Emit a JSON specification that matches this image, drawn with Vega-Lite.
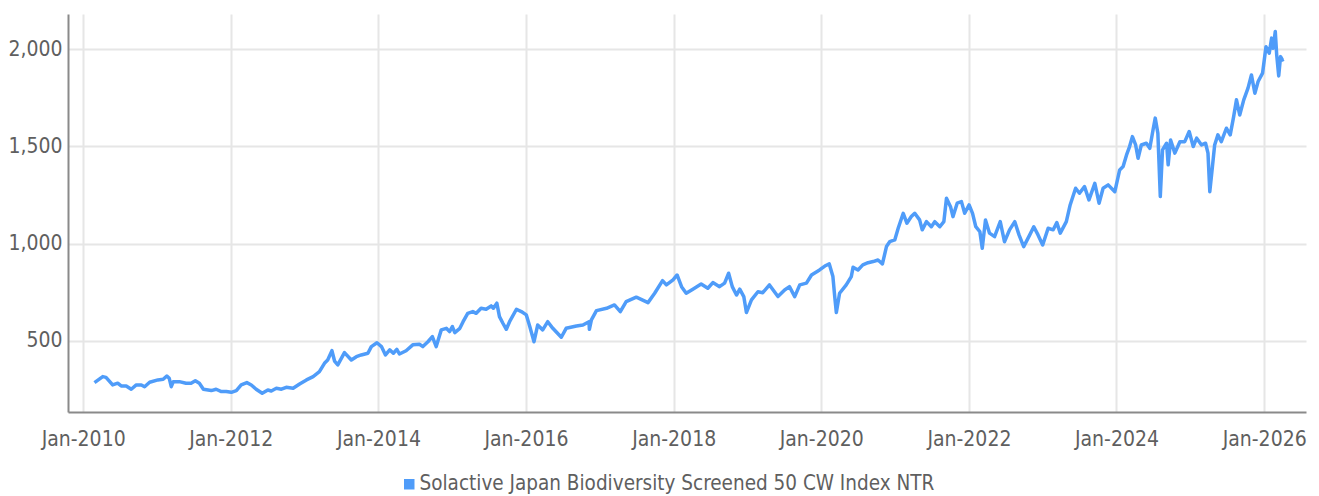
{
  "$schema": "https://vega.github.io/schema/vega-lite/v6.json",
  "width": 1238,
  "height": 398,
  "autosize": "none",
  "padding": {"left": 68, "top": 14, "right": 13, "bottom": 84},
  "background": "#ffffff",
  "config": {
    "view": {"stroke": null},
    "font": "DejaVu Sans Condensed, Roboto",
    "axis": {"labelFont": "DejaVu Sans Condensed, Roboto", "labelFontSize": 21, "labelColor": "#5f5f5f", "gridColor": "#e6e6e6", "gridWidth": 2, "domainColor": "#8a8a8a", "domainWidth": 2, "ticks": false, "title": null}
  },
  "data": {"values": [
    {"date":"2010-02-26","value":286},{"date":"2010-04-08","value":317},{"date":"2010-04-24","value":313},{"date":"2010-05-27","value":274},{"date":"2010-06-21","value":283},{"date":"2010-07-08","value":269},{"date":"2010-08-02","value":269},{"date":"2010-08-27","value":252},{"date":"2010-09-21","value":274},{"date":"2010-10-16","value":274},{"date":"2010-11-01","value":265},{"date":"2010-11-26","value":288},
    {"date":"2011-01-06","value":300},{"date":"2011-02-01","value":303},{"date":"2011-02-19","value":320},{"date":"2011-03-03","value":308},{"date":"2011-03-13","value":265},{"date":"2011-03-23","value":291},{"date":"2011-04-22","value":291},{"date":"2011-05-25","value":283},{"date":"2011-06-19","value":283},{"date":"2011-07-10","value":296},{"date":"2011-07-30","value":283},{"date":"2011-08-19","value":252},{"date":"2011-09-27","value":245},{"date":"2011-10-21","value":252},{"date":"2011-11-16","value":240},{"date":"2011-12-10","value":240},
    {"date":"2012-01-04","value":236},{"date":"2012-01-29","value":245},{"date":"2012-02-22","value":274},{"date":"2012-03-21","value":286},{"date":"2012-04-12","value":274},{"date":"2012-05-06","value":252},{"date":"2012-06-05","value":231},{"date":"2012-07-03","value":248},{"date":"2012-07-20","value":243},{"date":"2012-08-14","value":257},{"date":"2012-09-08","value":252},{"date":"2012-10-02","value":262},{"date":"2012-11-05","value":257},{"date":"2012-12-07","value":279},
    {"date":"2013-01-10","value":300},{"date":"2013-02-12","value":317},{"date":"2013-03-15","value":342},{"date":"2013-04-09","value":385},{"date":"2013-04-25","value":402},{"date":"2013-05-16","value":450},{"date":"2013-05-29","value":397},{"date":"2013-06-14","value":377},{"date":"2013-07-17","value":440},{"date":"2013-08-20","value":402},{"date":"2013-09-14","value":419},{"date":"2013-10-08","value":428},{"date":"2013-11-10","value":437},{"date":"2013-11-27","value":471},{"date":"2013-12-25","value":491},
    {"date":"2014-01-16","value":471},{"date":"2014-02-05","value":428},{"date":"2014-02-26","value":454},{"date":"2014-03-16","value":437},{"date":"2014-04-02","value":457},{"date":"2014-04-15","value":433},{"date":"2014-05-18","value":450},{"date":"2014-06-20","value":480},{"date":"2014-07-23","value":483},{"date":"2014-08-09","value":471},{"date":"2014-09-03","value":496},{"date":"2014-09-25","value":522},{"date":"2014-10-14","value":471},{"date":"2014-11-08","value":557},{"date":"2014-12-03","value":565},{"date":"2014-12-19","value":548},
    {"date":"2015-01-02","value":574},{"date":"2015-01-14","value":543},{"date":"2015-02-08","value":565},{"date":"2015-02-24","value":599},{"date":"2015-03-19","value":642},{"date":"2015-04-13","value":651},{"date":"2015-04-30","value":642},{"date":"2015-05-24","value":668},{"date":"2015-06-18","value":663},{"date":"2015-07-13","value":680},{"date":"2015-07-24","value":668},{"date":"2015-08-10","value":694},{"date":"2015-08-23","value":625},{"date":"2015-09-09","value":591},{"date":"2015-09-26","value":560},{"date":"2015-10-12","value":599},{"date":"2015-11-15","value":663},{"date":"2015-12-09","value":651},
    {"date":"2016-01-03","value":634},{"date":"2016-01-20","value":574},{"date":"2016-02-10","value":496},{"date":"2016-02-28","value":582},{"date":"2016-03-24","value":557},{"date":"2016-04-18","value":599},{"date":"2016-05-13","value":565},{"date":"2016-06-24","value":519},{"date":"2016-07-18","value":565},{"date":"2016-09-07","value":577},{"date":"2016-10-09","value":582},{"date":"2016-11-08","value":599},{"date":"2016-11-10","value":560},{"date":"2016-11-20","value":608},{"date":"2016-12-15","value":656},
    {"date":"2017-02-03","value":668},{"date":"2017-03-14","value":685},{"date":"2017-04-12","value":651},{"date":"2017-05-11","value":702},{"date":"2017-06-30","value":725},{"date":"2017-07-24","value":714},{"date":"2017-08-27","value":697},{"date":"2017-09-29","value":745},{"date":"2017-11-07","value":810},{"date":"2017-11-26","value":788},{"date":"2017-12-29","value":814},
    {"date":"2018-01-18","value":839},{"date":"2018-02-09","value":779},{"date":"2018-03-04","value":745},{"date":"2018-04-06","value":766},{"date":"2018-05-17","value":793},{"date":"2018-06-19","value":771},{"date":"2018-07-14","value":800},{"date":"2018-08-16","value":779},{"date":"2018-09-10","value":797},{"date":"2018-09-30","value":848},{"date":"2018-10-18","value":779},{"date":"2018-11-08","value":736},{"date":"2018-11-24","value":766},{"date":"2018-12-14","value":728},{"date":"2018-12-27","value":646},
    {"date":"2019-01-21","value":711},{"date":"2019-02-22","value":753},{"date":"2019-03-18","value":748},{"date":"2019-04-20","value":788},{"date":"2019-06-01","value":728},{"date":"2019-07-04","value":762},{"date":"2019-07-28","value":779},{"date":"2019-08-23","value":728},{"date":"2019-09-17","value":788},{"date":"2019-10-20","value":797},{"date":"2019-11-14","value":839},{"date":"2019-12-24","value":865},
    {"date":"2020-01-19","value":885},{"date":"2020-02-10","value":896},{"date":"2020-02-28","value":831},{"date":"2020-03-08","value":728},{"date":"2020-03-16","value":646},{"date":"2020-04-01","value":745},{"date":"2020-05-04","value":788},{"date":"2020-05-29","value":831},{"date":"2020-06-07","value":879},{"date":"2020-07-01","value":865},{"date":"2020-07-25","value":891},{"date":"2020-08-20","value":902},{"date":"2020-09-14","value":908},{"date":"2020-10-08","value":916},{"date":"2020-10-30","value":896},{"date":"2020-11-19","value":985},{"date":"2020-12-05","value":1010},{"date":"2020-12-30","value":1019},
    {"date":"2021-01-16","value":1079},{"date":"2021-02-10","value":1156},{"date":"2021-02-28","value":1105},{"date":"2021-03-22","value":1139},{"date":"2021-04-08","value":1156},{"date":"2021-05-02","value":1122},{"date":"2021-05-15","value":1071},{"date":"2021-06-05","value":1113},{"date":"2021-06-29","value":1087},{"date":"2021-07-16","value":1113},{"date":"2021-08-10","value":1087},{"date":"2021-08-30","value":1113},{"date":"2021-09-12","value":1233},{"date":"2021-10-02","value":1190},{"date":"2021-10-14","value":1139},{"date":"2021-11-04","value":1208},{"date":"2021-11-25","value":1216},{"date":"2021-12-11","value":1156},
    {"date":"2022-01-02","value":1199},{"date":"2022-01-19","value":1156},{"date":"2022-02-04","value":1087},{"date":"2022-02-24","value":1062},{"date":"2022-03-08","value":976},{"date":"2022-03-24","value":1122},{"date":"2022-04-13","value":1054},{"date":"2022-05-08","value":1036},{"date":"2022-06-05","value":1113},{"date":"2022-06-26","value":1010},{"date":"2022-07-21","value":1071},{"date":"2022-08-16","value":1113},{"date":"2022-09-06","value":1045},{"date":"2022-09-29","value":985},{"date":"2022-10-29","value":1045},{"date":"2022-11-18","value":1087},{"date":"2022-12-09","value":1045},
    {"date":"2023-01-01","value":993},{"date":"2023-01-28","value":1079},{"date":"2023-02-22","value":1071},{"date":"2023-03-12","value":1108},{"date":"2023-03-29","value":1054},{"date":"2023-04-28","value":1113},{"date":"2023-05-17","value":1199},{"date":"2023-06-13","value":1285},{"date":"2023-07-02","value":1259},{"date":"2023-07-27","value":1293},{"date":"2023-08-18","value":1225},{"date":"2023-09-16","value":1310},{"date":"2023-10-07","value":1208},{"date":"2023-10-27","value":1285},{"date":"2023-11-21","value":1302},{"date":"2023-12-24","value":1267},
    {"date":"2024-01-17","value":1379},{"date":"2024-02-03","value":1396},{"date":"2024-02-20","value":1456},{"date":"2024-03-06","value":1499},{"date":"2024-03-20","value":1550},{"date":"2024-04-05","value":1507},{"date":"2024-04-17","value":1439},{"date":"2024-05-03","value":1507},{"date":"2024-05-28","value":1516},{"date":"2024-06-14","value":1490},{"date":"2024-06-30","value":1584},{"date":"2024-07-11","value":1645},{"date":"2024-07-24","value":1567},{"date":"2024-08-05","value":1242},{"date":"2024-08-16","value":1482},{"date":"2024-09-05","value":1516},{"date":"2024-09-13","value":1405},{"date":"2024-09-25","value":1533},{"date":"2024-10-16","value":1465},{"date":"2024-11-10","value":1524},{"date":"2024-12-04","value":1524},{"date":"2024-12-26","value":1576},
    {"date":"2025-01-15","value":1499},{"date":"2025-02-01","value":1542},{"date":"2025-02-25","value":1507},{"date":"2025-03-17","value":1516},{"date":"2025-03-29","value":1465},{"date":"2025-04-07","value":1267},{"date":"2025-04-20","value":1396},{"date":"2025-05-01","value":1507},{"date":"2025-05-17","value":1559},{"date":"2025-06-03","value":1524},{"date":"2025-06-28","value":1593},{"date":"2025-07-17","value":1559},{"date":"2025-08-03","value":1653},{"date":"2025-08-17","value":1739},{"date":"2025-09-02","value":1661},{"date":"2025-09-22","value":1739},{"date":"2025-10-13","value":1799},{"date":"2025-10-30","value":1867},{"date":"2025-11-16","value":1773},{"date":"2025-12-02","value":1833},{"date":"2025-12-24","value":1876},
    {"date":"2026-01-10","value":2012},{"date":"2026-01-26","value":1979},{"date":"2026-02-07","value":2056},{"date":"2026-02-14","value":2004},{"date":"2026-02-25","value":2090},{"date":"2026-03-04","value":1970},{"date":"2026-03-14","value":1862},{"date":"2026-03-23","value":1961},{"date":"2026-04-01","value":1944},{"date":"2026-04-07","value":1948}
  ]},
  "mark": {"type": "line", "strokeWidth": 3.5, "strokeJoin": "round", "clip": true},
  "encoding": {
    "x": {
      "field": "date", "type": "temporal",
      "scale": {"type": "utc", "domain": [{"year": 2009, "month": 10, "date": 18, "utc": true}, {"year": 2026, "month": 7, "date": 27, "utc": true}]},
      "axis": {
        "values": [
          {"year": 2010, "month": 1, "date": 1, "utc": true},
          {"year": 2012, "month": 1, "date": 1, "utc": true},
          {"year": 2014, "month": 1, "date": 1, "utc": true},
          {"year": 2016, "month": 1, "date": 1, "utc": true},
          {"year": 2018, "month": 1, "date": 1, "utc": true},
          {"year": 2020, "month": 1, "date": 1, "utc": true},
          {"year": 2022, "month": 1, "date": 1, "utc": true},
          {"year": 2024, "month": 1, "date": 1, "utc": true},
          {"year": 2026, "month": 1, "date": 1, "utc": true}
        ],
        "labelExpr": "utcFormat(datum.value, '%b-%Y')", "labelPadding": 16, "labelFlush": false, "labelOverlap": false
      }
    },
    "y": {
      "field": "value", "type": "quantitative",
      "scale": {"domain": [135, 2180], "nice": false, "zero": false},
      "axis": {"values": [500, 1000, 1500, 2000], "format": ",d", "labelPadding": 6}
    },
    "color": {
      "datum": "Solactive Japan Biodiversity Screened 50 CW Index NTR",
      "type": "nominal",
      "scale": {"range": ["#4f9cf9"]},
      "legend": {
        "title": null, "orient": "none", "legendX": 331, "legendY": 460,
        "symbolType": "square", "symbolSize": 110,
        "labelFont": "DejaVu Sans Condensed, Roboto",
        "labelFontSize": 20.5, "labelColor": "#5f5f5f", "labelOffset": 0, "labelLimit": 800,
        "encode": {"symbols": {"update": {"fill": {"value": "#4f9cf9"}, "stroke": {"value": "transparent"}, "strokeWidth": {"value": 0}}}}
      }
    }
  }
}
